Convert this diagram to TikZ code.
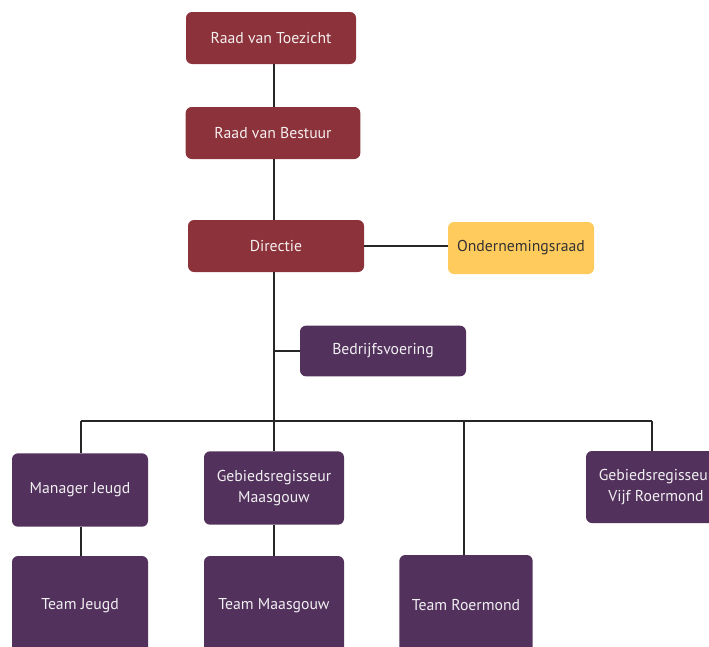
\documentclass[tikz,border=0pt]{standalone}
\usepackage{fontspec}
\setmainfont{PT Sans}
\usepackage{tikz}
\usetikzlibrary{positioning}

\definecolor{rvtred}{HTML}{8C323B}
\definecolor{teampurple}{HTML}{52325C}
\definecolor{orgeel}{HTML}{FFCB5C}

\tikzset{
  boxbase/.style={rounded corners=4.5pt, inner sep=2pt, align=center,
    font=\fontsize{11.8}{15.5}\selectfont},
  boxred/.style={boxbase, fill=rvtred, text=white!92!rvtred},
  boxpurple/.style={boxbase, fill=teampurple, text=white!92!teampurple},
  boxyellow/.style={boxbase, fill=orgeel, text=black!80},
  link/.style={line width=0.9pt, black!85}
}

\begin{document}
\begin{tikzpicture}[x=0.75pt, y=-0.75pt]
\useasboundingbox (0,0) rectangle (709,646);
\clip (0,0) rectangle (709,646);

% top of the organisation
\node[boxred, minimum width=127.5pt, minimum height=39pt] (toezicht) at (271,38) {Raad van Toezicht};
\node[boxred, minimum width=131pt, minimum height=39pt] (bestuur) at (273,133) {Raad van Bestuur};
\node[boxred, minimum width=132pt, minimum height=39pt] (directie) at (276,246) {Directie};
\node[boxyellow, minimum width=109.5pt, minimum height=39pt] (or) at (521,248) {Ondernemingsraad};
\node[boxpurple, minimum width=124.5pt, minimum height=38pt] (bedrijf) at (383,351) {Bedrijfsvoering};

% second row
\node[boxpurple, minimum width=102pt, minimum height=55pt] (manjeugd) at (80,490) {Manager Jeugd};
\node[boxpurple, minimum width=105pt, minimum height=55pt] (maasgouw) at (274,488) {Gebiedsregisseur\\Maasgouw};
\node[boxpurple, minimum width=105pt, minimum height=54pt] (vijf) at (656,487) {Gebiedsregisseur\\Vijf Roermond};

% teams
\node[boxpurple, minimum width=102pt, minimum height=75pt] (tjeugd) at (80,606) {Team Jeugd};
\node[boxpurple, minimum width=105pt, minimum height=75pt] (tmaas) at (274,606) {Team Maasgouw};
\node[boxpurple, minimum width=100pt, minimum height=75pt] (troer) at (466,605) {Team Roermond};

\coordinate (barL) at (81,421);
\coordinate (barR) at (652,421);
\coordinate (barM) at (464,421);

\draw[link] (toezicht.south -| maasgouw) -- (bestuur.north -| maasgouw);
\draw[link] (bestuur.south -| maasgouw) -- (directie.north -| maasgouw);
\draw[link] (directie.south -| maasgouw) -- (maasgouw.north);
\draw[link] (directie.east) -- (or.west |- directie.east);
\draw[link] (bedrijf.west) -- (bedrijf.west -| maasgouw);
\draw[link] (barL) -- (barR);
\draw[link] (barL) -- (manjeugd.north -| barL);
\draw[link] (barR) -- (vijf.north -| barR);
\draw[link] (barM) -- (troer.north -| barM);
\draw[link] (manjeugd.south -| barL) -- (tjeugd.north -| barL);
\draw[link] (maasgouw) -- (tmaas);
\end{tikzpicture}
\end{document}
